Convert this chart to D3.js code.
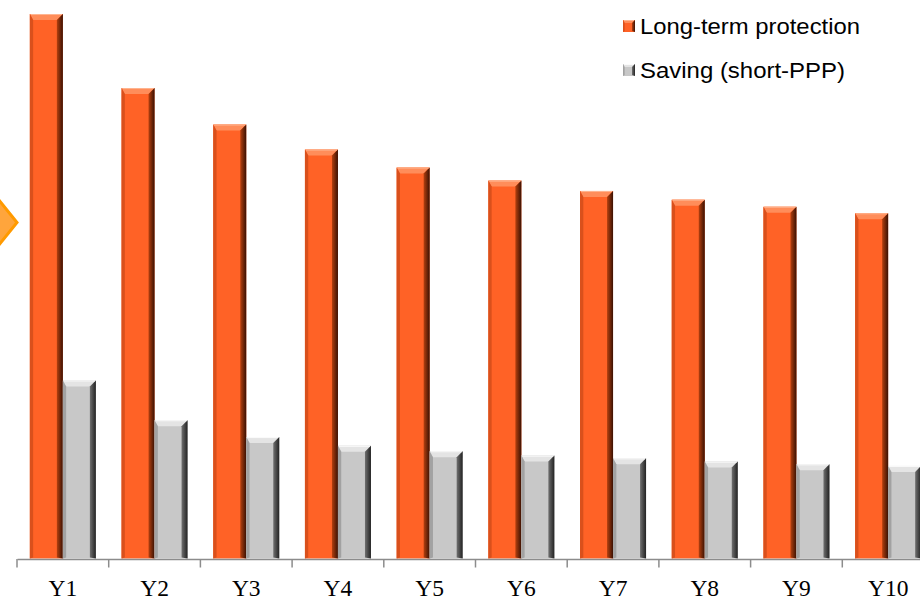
<!DOCTYPE html>
<html>
<head>
<meta charset="utf-8">
<script src="https://cdn.jsdelivr.net/npm/d3@7"></script>
<style>
  html, body { margin: 0; padding: 0; background: #ffffff; }
  svg { display: block; }
</style>
</head>
<body>
<div id="chart"></div>
<script>
// Categories and series values (relative index, first year of protection = 100)
const categories = ["Y1", "Y2", "Y3", "Y4", "Y5", "Y6", "Y7", "Y8", "Y9", "Y10"];
const seriesNames = ["Long-term protection", "Saving (short-PPP)"];
const longTerm = [100, 86.4, 79.7, 75.1, 71.8, 69.4, 67.5, 65.9, 64.6, 63.4];
const saving   = [32.7, 25.4, 22.3, 20.7, 19.7, 18.9, 18.4, 17.8, 17.3, 17.0];

const W = 920, H = 602;
const baseY = 558.5, topY = 14;
const left = 17, band = 91.7;

const svg = d3.select("#chart").append("svg")
  .attr("width", W).attr("height", H);

const defs = svg.append("defs");

// Colour sets for the bevelled bars: face, top bevel, left bevel, right (shadow) bevel
const palettes = [
  { face: "#ff6226", top: "#ff8d5a", left: "#d9501c", right: ["#b4400f", "#3a1103"], rim: "#ffb591" },
  { face: "#c8c8c8", top: "#e4e4e4", left: "#a2a2a2", right: ["#707070", "#222222"], rim: "#fbfbfb" }
];
palettes.forEach((p, i) => {
  const g = defs.append("linearGradient").attr("id", "rg" + i)
    .attr("x1", "0").attr("x2", "1").attr("y1", "0").attr("y2", "0");
  g.append("stop").attr("offset", "0").attr("stop-color", p.right[0]);
  g.append("stop").attr("offset", "1").attr("stop-color", p.right[1]);
});

const x0 = d3.scaleBand().domain(categories).range([left, left + band * categories.length]);
const x1 = d3.scaleBand().domain(seriesNames).range([x0.bandwidth() * 0.14, x0.bandwidth() * 0.86]);
const y = d3.scaleLinear().domain([0, 100]).range([baseY, topY]);

const data = categories.map((c, i) => ({ cat: c, values: [longTerm[i], saving[i]] }));

// Left-hand pointer
svg.append("polygon")
  .attr("points", [[-14, 184], [17, 222.5], [-14, 261]].map(p => p.join(",")).join(" "))
  .attr("fill", "#ffa53c")
  .attr("stroke", "#ff9a00")
  .attr("stroke-width", 3);

// Draws one bevelled bar into group g
function bevelBar(g, x, yt, w, yb, p, pi, b) {
  const h = yb - yt;
  const bt = Math.min(b, h / 2);
  const bl = b * 0.55;
  g.append("rect").attr("x", x).attr("y", yt).attr("width", w).attr("height", h).attr("fill", p.face);
  const poly = (pts, fill) => g.append("polygon")
    .attr("points", pts.map(q => q.join(",")).join(" ")).attr("fill", fill);
  poly([[x, yt], [x + w, yt], [x + w - b, yt + bt], [x + bl, yt + bt]], p.top);
  poly([[x, yt], [x + bl, yt + bt], [x + bl, yb - 1], [x, yb]], p.left);
  poly([[x + w, yt], [x + w, yb], [x + w - b, yb - 1], [x + w - b, yt + bt]], "url(#rg" + pi + ")");
  // thin light rim on top edge
  g.append("line").attr("x1", x + 1).attr("x2", x + w - 1).attr("y1", yt + 0.5).attr("y2", yt + 0.5)
    .attr("stroke", p.rim).attr("stroke-width", 1);
}

const groups = svg.append("g").selectAll("g.cat").data(data).join("g")
  .attr("class", "cat")
  .attr("transform", d => `translate(${x0(d.cat)},0)`);

groups.each(function (d) {
  const g = d3.select(this);
  d.values.forEach((v, si) => {
    bevelBar(g, x1(seriesNames[si]), y(v), x1.bandwidth(), y(0), palettes[si], si, 6);
  });
});

// Category axis: line, boundary ticks and labels
const axisG = svg.append("g").attr("transform", `translate(0,${baseY + 0.5})`);
axisG.call(d3.axisBottom(x0).tickSize(0).tickSizeOuter(0).tickPadding(0));
axisG.select(".domain").attr("stroke", "#8c8c8c").attr("stroke-width", 1.5);
axisG.selectAll(".tick text")
  .attr("y", 36.5).attr("dy", null)
  .attr("font-family", "'Liberation Serif', 'Times New Roman', serif")
  .attr("font-size", 23.5).attr("fill", "#000");

const bounds = categories.map(c => x0(c));
axisG.selectAll("line.boundary").data(bounds).join("line")
  .attr("class", "boundary")
  .attr("x1", d => d).attr("x2", d => d)
  .attr("y1", 0).attr("y2", 8.5)
  .attr("stroke", "#8c8c8c").attr("stroke-width", 1.5);

// Legend
const legend = svg.append("g");
const legendRows = [
  { name: seriesNames[0], y: 26, p: palettes[0], i: 0, len: 220 },
  { name: seriesNames[1], y: 70, p: palettes[1], i: 1, len: 205 }
];
legendRows.forEach(r => {
  const g = legend.append("g");
  bevelBar(g, 623, r.y - 6, 12, r.y + 6, r.p, r.i, 3);
  g.append("text").attr("x", 640).attr("y", r.y + 7.5)
    .attr("font-family", "'Liberation Sans', Arial, sans-serif")
    .attr("font-size", 21.5).attr("fill", "#000")
    .attr("textLength", r.len).attr("lengthAdjust", "spacingAndGlyphs")
    .text(r.name);
});
</script>
</body>
</html>
